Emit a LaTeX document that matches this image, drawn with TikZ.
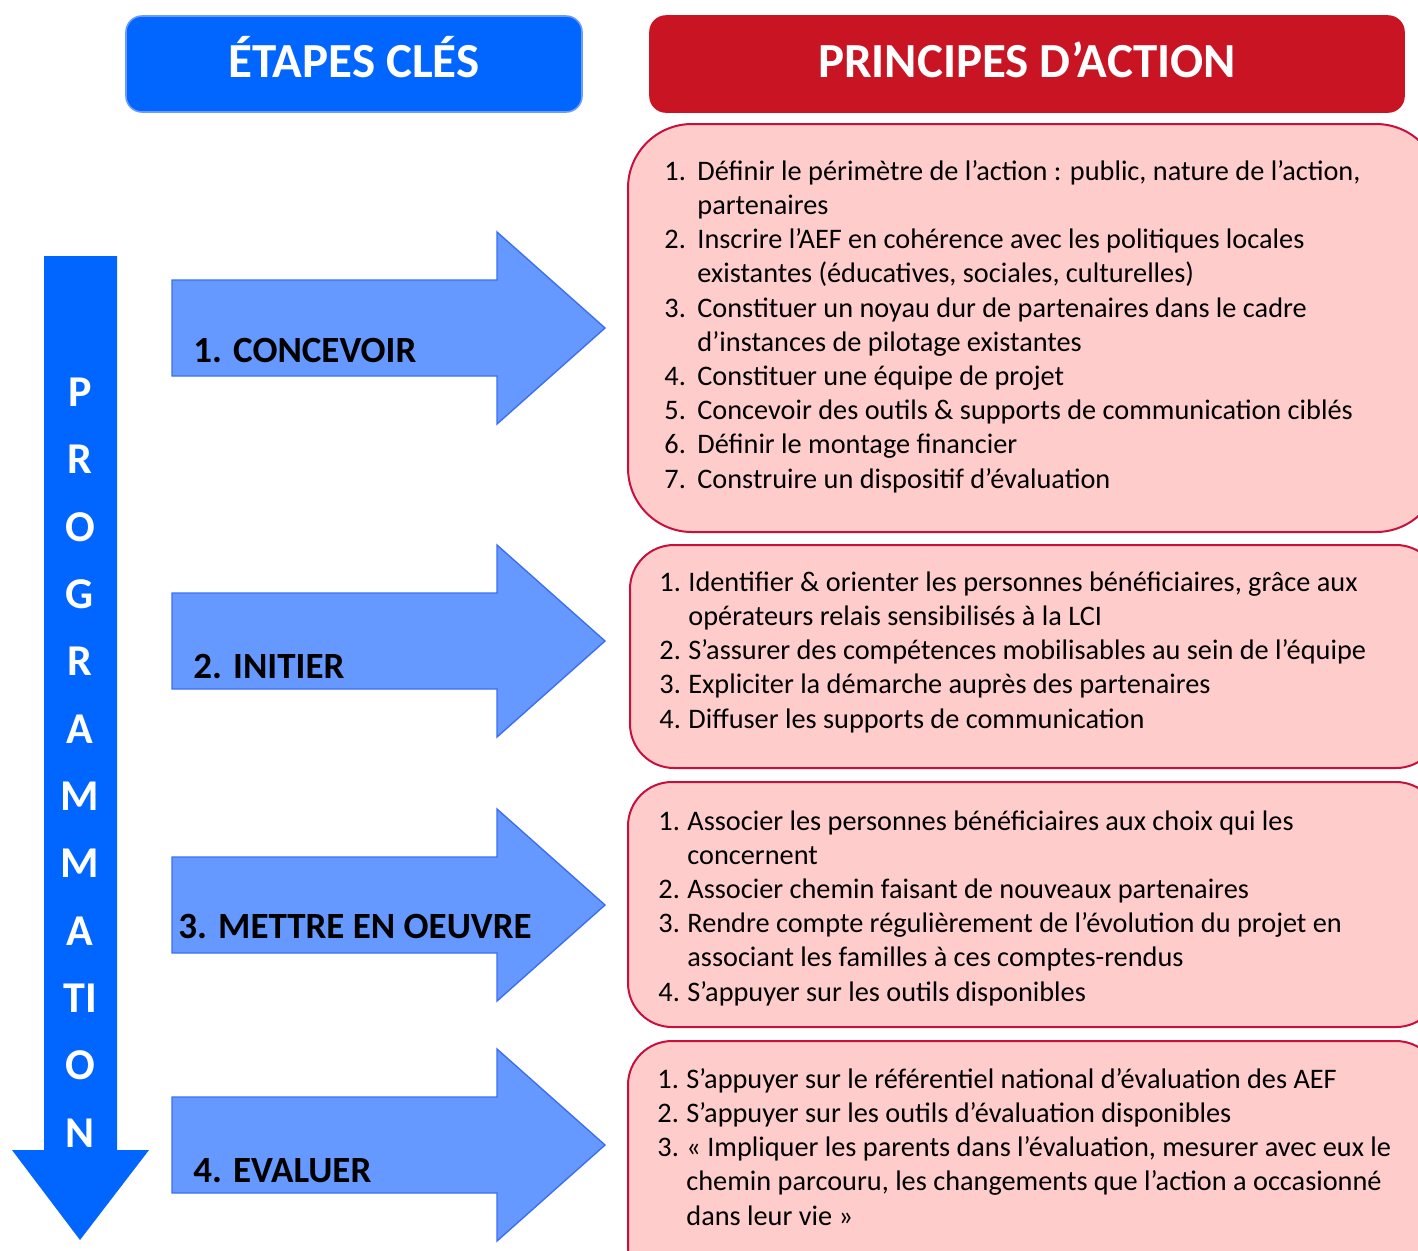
\documentclass[tikz,border=0pt]{standalone}
\usepackage{fontspec}
\setmainfont{Carlito}
\definecolor{hdrblue}{HTML}{0066FF}
\definecolor{hdrblueline}{HTML}{6A9BF5}
\definecolor{hdrred}{HTML}{C91424}
\definecolor{arrfill}{HTML}{6699FF}
\definecolor{arrline}{HTML}{3B6EF5}
\definecolor{pinkfill}{HTML}{FFCCCC}
\definecolor{pinkline}{HTML}{C8103C}
\newcommand{\bodyfont}{\fontsize{14.15}{17.1}\selectfont}
\tikzset{
  hdrbox/.style={rounded corners=8pt, line width=0.8pt},
  steparrow/.style={fill=arrfill, draw=arrline, line width=0.7pt, line join=miter},
  pinkbox/.style={fill=pinkfill, draw=pinkline, line width=1pt},
  steplabel/.style={anchor=base west, font=\bfseries\fontsize{18.5}{21}\selectfont, inner sep=0},
  vletter/.style={font=\bfseries\fontsize{22}{24}\selectfont, text=white, inner sep=0},
  listtext/.style={anchor=base west, align=left, font=\bodyfont, inner sep=0},
}
\begin{document}
\begin{tikzpicture}[x=0.5pt, y=-0.5pt]
\useasboundingbox (0,0) rectangle (1418,1250);
% headers
\draw[hdrbox, fill=hdrblue, draw=hdrblueline] (126,16) rectangle (582,112);
\node[anchor=base, text=white, font=\bfseries\fontsize{24.5}{28}\selectfont, inner sep=0] (h1) at (354,77) {ÉTAPES CLÉS};
\draw[hdrbox, fill=hdrred, draw=hdrred] (650,16) rectangle (1404,112);
\node[anchor=base, text=white, font=\bfseries\fontsize{24.5}{28}\selectfont, inner sep=0] (h2) at (1027,77) {PRINCIPES D’ACTION};
% vertical arrow
\fill[hdrblue] (44,256) -- (117,256) -- (117,1150) -- (149,1150) -- (80,1240) -- (12,1150) -- (44,1150) -- cycle;
\foreach \l/\y [count=\i] in {P/392,R/459,O/527,G/594,R/661,A/729,M/796,M/863,A/931,TI/998,O/1065,N/1133}
  \node[vletter] (v\i) at (80,\y) {\l};
% horizontal arrows
\foreach \c [count=\i] in {328,641,905,1145}{
  \draw[steparrow] (172,\c-48) -- (497,\c-48) -- (497,\c-96) -- (605,\c) -- (497,\c+96) -- (497,\c+48) -- (172,\c+48) -- cycle;
}
\node[steplabel] (s1) at (193,362) {1. CONCEVOIR};
\node[steplabel] (s2) at (193,678) {2. INITIER};
\node[steplabel] (s3) at (178,938) {3. METTRE EN OEUVRE};
\node[steplabel] (s4) at (193,1182) {4. EVALUER};
% pink boxes
\draw[pinkbox, rounded corners=32pt] (628,124) rectangle (1440,532);
\draw[pinkbox, rounded corners=22pt] (630,545) rectangle (1440,768);
\draw[pinkbox, rounded corners=22pt] (628,782) rectangle (1440,1027);
\draw[pinkbox, rounded corners=22pt] (628,1041) rectangle (1440,1290);
% box texts (anchor = baseline of the last line)
\node[listtext] (t1) at (664,488) {%
\makebox[16.5pt][l]{1.}Définir le périmètre de l’action : public, nature de l’action,\\
\hspace*{16.5pt}partenaires\\
\makebox[16.5pt][l]{2.}Inscrire l’AEF en cohérence avec les politiques locales\\
\hspace*{16.5pt}existantes (éducatives, sociales, culturelles)\\
\makebox[16.5pt][l]{3.}Constituer un noyau dur de partenaires dans le cadre\\
\hspace*{16.5pt}d’instances de pilotage existantes\\
\makebox[16.5pt][l]{4.}Constituer une équipe de projet\\
\makebox[16.5pt][l]{5.}Concevoir des outils \& supports de communication ciblés\\
\makebox[16.5pt][l]{6.}Définir le montage financier\\
\makebox[16.5pt][l]{7.}Construire un dispositif d’évaluation};
\node[listtext] (t2) at (659,728) {%
\makebox[14.5pt][l]{1.}Identifier \& orienter les personnes bénéficiaires, grâce aux\\
\hspace*{14.5pt}opérateurs relais sensibilisés à la LCI\\
\makebox[14.5pt][l]{2.}S’assurer des compétences mobilisables au sein de l’équipe\\
\makebox[14.5pt][l]{3.}Expliciter la démarche auprès des partenaires\\
\makebox[14.5pt][l]{4.}Diffuser les supports de communication};
\node[listtext] (t3) at (658,1001) {%
\makebox[14.5pt][l]{1.}Associer les personnes bénéficiaires aux choix qui les\\
\hspace*{14.5pt}concernent\\
\makebox[14.5pt][l]{2.}Associer chemin faisant de nouveaux partenaires\\
\makebox[14.5pt][l]{3.}Rendre compte régulièrement de l’évolution du projet en\\
\hspace*{14.5pt}associant les familles à ces comptes-rendus\\
\makebox[14.5pt][l]{4.}S’appuyer sur les outils disponibles};
\node[listtext] (t4) at (657,1225) {%
\makebox[14.5pt][l]{1.}S’appuyer sur le référentiel national d’évaluation des AEF\\
\makebox[14.5pt][l]{2.}S’appuyer sur les outils d’évaluation disponibles\\
\makebox[14.5pt][l]{3.}«~Impliquer les parents dans l’évaluation, mesurer avec eux le\\
\hspace*{14.5pt}chemin parcouru, les changements que l’action a occasionné\\
\hspace*{14.5pt}dans leur vie~»};
\end{tikzpicture}
\end{document}
